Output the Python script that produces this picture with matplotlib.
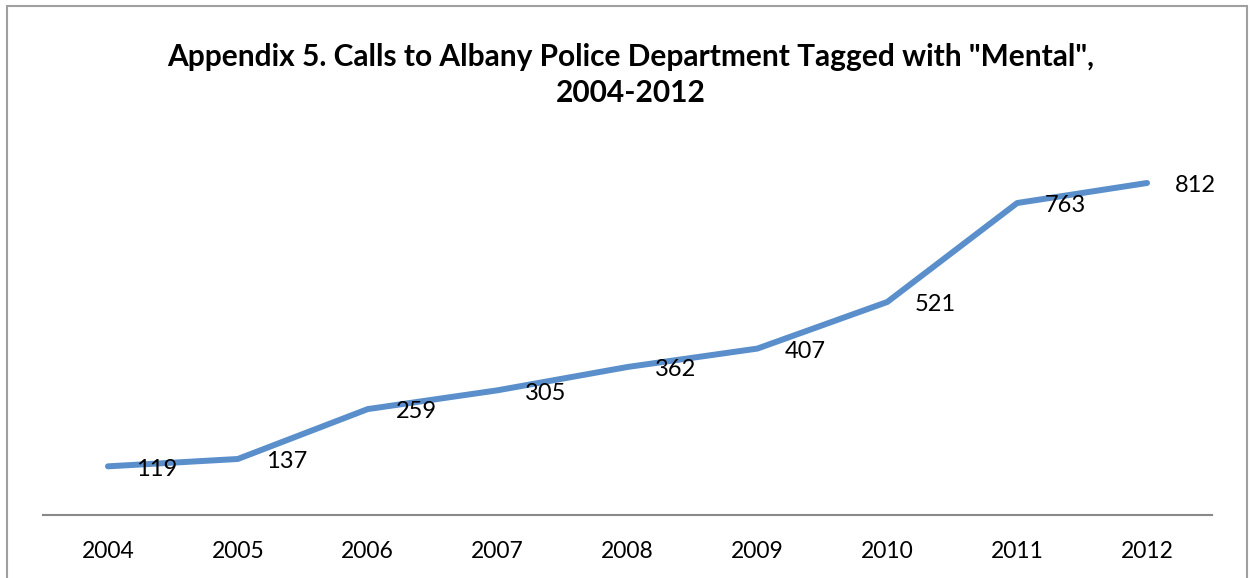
import matplotlib.pyplot as plt
import matplotlib.patches as patches

years = ["2004", "2005", "2006", "2007", "2008", "2009", "2010", "2011", "2012"]
calls = [119, 137, 259, 305, 362, 407, 521, 763, 812]

title = 'Appendix 5. Calls to Albany Police Department Tagged with "Mental",\n2004-2012'

plt.rcParams['font.family'] = ['Lato', 'DejaVu Sans']

fig = plt.figure(figsize=(12.5, 5.78), dpi=100)
ax = fig.add_axes([43 / 1250, 1 - 515 / 578, (1212 - 43) / 1250, (515 - 147) / 578])

x = list(range(len(years)))
ax.plot(x, calls, color='#5A8FCB', linewidth=4.3, solid_capstyle='round', solid_joinstyle='round')

for xi, v in zip(x, calls):
    ax.annotate(str(v), (xi, v), xytext=(20, -2), textcoords='offset points',
                ha='left', va='center', fontsize=17, color='black')

ax.set_xlim(-0.5, len(years) - 0.5)
ax.set_ylim(0, 900)
ax.set_xticks(x)
ax.set_xticklabels(years, fontsize=16.5)
ax.tick_params(axis='x', length=0, pad=19)
ax.set_yticks([])

for s in ['top', 'right', 'left']:
    ax.spines[s].set_visible(False)
ax.spines['bottom'].set_color('#888888')
ax.spines['bottom'].set_linewidth(1.5)

fig.text(631 / 1250, 1 - 75 / 578, title, ha='center', va='center', fontsize=21.5,
         fontweight='bold', linespacing=1.35)

border = patches.Rectangle((7 / 1250, -0.05), 1240 / 1250, 1.05 - 6 / 578,
                           transform=fig.transFigure, fill=False,
                           edgecolor='#A0A0A0', linewidth=1.5, clip_on=False)
fig.patches.append(border)

fig.savefig('out.png', dpi=100)
